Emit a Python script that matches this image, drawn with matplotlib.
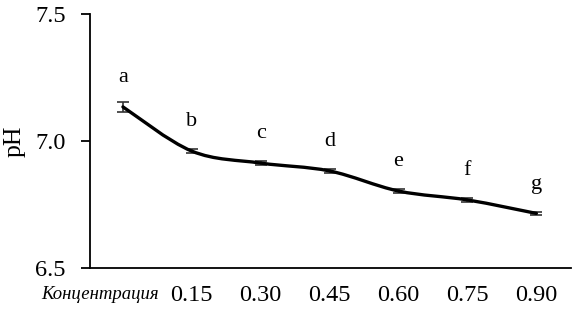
import numpy as np
import matplotlib.pyplot as plt
from matplotlib.path import Path
from matplotlib.patches import PathPatch
import matplotlib.transforms as mtransforms

# donnees
categories = ["Концентрация", "0.15", "0.30", "0.45", "0.60", "0.75", "0.90"]
ph = [7.134, 6.960, 6.913, 6.882, 6.803, 6.768, 6.715]
ph_err = [0.020, 0.009, 0.007, 0.009, 0.007, 0.007, 0.007]
lettres = ["a", "b", "c", "d", "e", "f", "g"]

plt.rcParams['font.family'] = ['Liberation Serif', 'DejaVu Serif']

fig = plt.figure(figsize=(5.76, 3.15), dpi=100)
ax = fig.add_axes([0.156, 0.149, 0.835, 0.807])

x = np.arange(len(categories))
y = np.array(ph)

# courbe lissee (bezier type Excel)
pts = np.column_stack([x, y])
verts = [pts[0]]
codes = [Path.MOVETO]
n = len(pts)
for i in range(n - 1):
    p0 = pts[max(i - 1, 0)]
    p1 = pts[i]
    p2 = pts[i + 1]
    p3 = pts[min(i + 2, n - 1)]
    c1 = p1 + (p2 - p0) / 6.0
    c2 = p2 - (p3 - p1) / 6.0
    verts += [c1, c2, p2]
    codes += [Path.CURVE4] * 3
ax.add_patch(PathPatch(Path(verts, codes), fill=False, edgecolor='black',
                       lw=2.4, capstyle='round', zorder=3))

ax.errorbar(x, y, yerr=ph_err, fmt='none', ecolor='#333333', elinewidth=1.2,
            capsize=4, capthick=1.2, zorder=2)

for xi, yi, l in zip(x, y, lettres):
    ax.annotate(l, (xi, yi), xytext=(0, 21), textcoords='offset points',
                ha='center', va='center', fontsize=16)

ax.set_xlim(-0.48, 6.5)
ax.set_ylim(6.5, 7.5)
ax.set_yticks([6.5, 7.0, 7.5])
ax.set_yticklabels(["6.5", "7.0", "7.5"])
ax.set_xticks(x)
ax.set_xticklabels(categories)
ax.tick_params(axis='y', direction='out', length=6.5, width=1.3, pad=11, labelsize=17.5)
ax.tick_params(axis='x', length=0, pad=12, labelsize=17.5)

lab0 = ax.get_xticklabels()[0]
lab0.set_fontsize(13.5)
lab0.set_fontstyle('italic')
lab0.set_transform(lab0.get_transform() + mtransforms.ScaledTranslation(-23 / 100, -1 / 100, fig.dpi_scale_trans))

ax.set_ylabel("pH", fontsize=18.5, labelpad=7)

for s in ['top', 'right']:
    ax.spines[s].set_visible(False)
for s in ['left', 'bottom']:
    ax.spines[s].set_linewidth(1.3)

fig.savefig("out.png", dpi=100)
